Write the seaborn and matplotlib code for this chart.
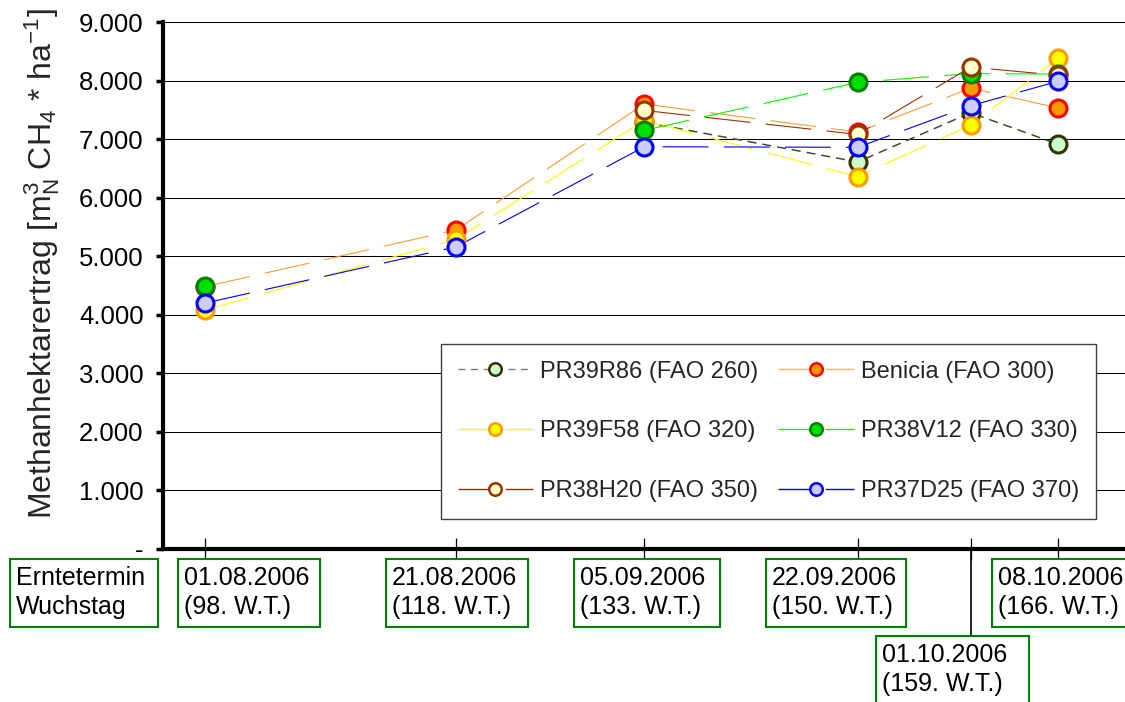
import numpy as np
import pandas as pd
import matplotlib
matplotlib.use("Agg")
import matplotlib.pyplot as plt
import matplotlib.transforms as mtransforms
from matplotlib.patches import Rectangle
from matplotlib.lines import Line2D
from matplotlib.ticker import FuncFormatter, FixedLocator
import seaborn as sns

# ---------------- data ----------------
harvest_dates = ["01.08.2006", "21.08.2006", "05.09.2006", "22.09.2006", "01.10.2006", "08.10.2006"]
growth_days = [98, 118, 133, 150, 159, 166]
varieties = ["PR39R86 (FAO 260)", "Benicia (FAO 300)", "PR39F58 (FAO 320)",
             "PR38V12 (FAO 330)", "PR38H20 (FAO 350)", "PR37D25 (FAO 370)"]
pr39r86 = [np.nan, np.nan, 7290, 6610, 7450, 6910]
benicia = [4480, 5450, 7600, 7120, 7870, 7530]
pr39f58 = [4080, 5290, 7320, 6360, 7240, 8380]
pr38v12 = [4490, np.nan, 7150, 7970, 8120, 8110]
pr38h20 = [np.nan, np.nan, 7490, 7080, 8230, 8090]
pr37d25 = [4200, 5160, 6870, 6860, 7570, 7990]
yticks = [0, 1000, 2000, 3000, 4000, 5000, 6000, 7000, 8000, 9000]
row_label = ["Erntetermin", "Wuchstag"]

series = [pr39r86, benicia, pr39f58, pr38v12, pr38h20, pr37d25]

# ---------------- styles ----------------
line_colors = ["#4a4a2a", "#FF9933", "#FFFF00", "#00FF00", "#993300", "#0000FF"]
legend_line_colors = ["#808066", "#FFB060", "#FFFF00", "#00FF00", "#993300", "#0000FF"]
face_colors = ["#CCFFCC", "#FF9900", "#FFFF00", "#00E000", "#FFFFCC", "#CCCCFF"]
edge_colors = ["#333300", "#FF0000", "#FF9900", "#008000", "#993300", "#0000FF"]
long_dash = (0, (33, 11))
short_dash = (0, (6.5, 4.3))
line_styles = [short_dash, long_dash, long_dash, long_dash, long_dash, long_dash]
legend_styles = [(0, (5, 4)), (0, (26, 8)), (0, (26, 8)), (0, (26, 8)), (0, (26, 8)), (0, (26, 8))]
line_widths = [1.1, 0.8, 0.8, 0.8, 0.8, 0.8]

# long table with contiguous segments (gaps break the line)
rows = []
for name, vals in zip(varieties, series):
    seg = 0
    for d, v in zip(growth_days, vals):
        if np.isnan(v):
            seg += 1
            continue
        rows.append({"variety": name, "day": d, "value": v, "seg": seg})
df = pd.DataFrame(rows)

sns.set_style("white")
plt.rcParams["font.family"] = ["Liberation Sans", "DejaVu Sans"]
plt.rcParams["mathtext.fontset"] = "custom"
plt.rcParams["mathtext.rm"] = "Liberation Sans"
plt.rcParams["mathtext.it"] = "Liberation Sans:italic"
plt.rcParams["lines.scale_dashes"] = False

W, H = 1125, 702
fig = plt.figure(figsize=(W / 100, H / 100), dpi=100)
ax = fig.add_axes([163 / W, 1 - 549 / H, (W - 163) / W, 527 / H])

# lines
for i, name in enumerate(varieties):
    sub = df[df["variety"] == name]
    sns.lineplot(data=sub, x="day", y="value", units="seg", estimator=None,
                 color=line_colors[i], linestyle=line_styles[i], linewidth=line_widths[i],
                 ax=ax, legend=False, zorder=2)
# markers
for i, name in enumerate(varieties):
    sub = df[df["variety"] == name]
    sns.scatterplot(data=sub, x="day", y="value", color=face_colors[i],
                    edgecolor=edge_colors[i], linewidth=2.2, s=150,
                    ax=ax, legend=False, zorder=3 + i * 0.1)

# axes
x0 = growth_days[0]
ax.set_xlim(x0 - 3.35, x0 + 73.3)
ax.set_ylim(0, 9000)
ax.yaxis.set_major_locator(FixedLocator(yticks))
ax.yaxis.set_major_formatter(FuncFormatter(
    lambda v, p: "-" if v == 0 else f"{v:,.0f}".replace(",", ".")))
ax.xaxis.set_major_locator(FixedLocator(growth_days))
ax.set_xticklabels([])
ax.set_xlabel("")
ax.set_axisbelow(True)
ax.yaxis.grid(True, color="black", linewidth=0.75)
ax.xaxis.grid(False)
for s in ["top", "right"]:
    ax.spines[s].set_visible(False)
for s in ["left", "bottom"]:
    ax.spines[s].set_color("black")
    ax.spines[s].set_linewidth(3)
ax.tick_params(axis="y", direction="out", length=5, width=2.5, labelsize=18.5,
               pad=9, left=True, colors="black")
ax.tick_params(axis="x", direction="inout", length=16, width=0.9, bottom=True, colors="black")
ax.set_ylabel("Methanhektarertrag [m$\\mathregular{^3_N}$ CH$\\mathregular{_4}$ * ha$\\mathregular{^{-1}}$]",
              fontsize=23)
ax.yaxis.set_label_coords(-0.126, 0.541)
ax.yaxis.label.set_va("center")

# long tick for 01.10.2006
trans = mtransforms.blended_transform_factory(ax.transData, ax.transAxes)
ax.plot([growth_days[4], growth_days[4]], [0, -(637 - 549) / 527], transform=trans,
        color="black", lw=1.2, clip_on=False, zorder=1)

# legend
handles = []
for i, name in enumerate(varieties):
    handles.append(Line2D([0], [0], color=legend_line_colors[i], linestyle=legend_styles[i],
                          linewidth=1.0, marker="o", markersize=9,
                          markerfacecolor=face_colors[i], markeredgecolor=edge_colors[i],
                          markeredgewidth=1.8))
order = [0, 2, 4, 1, 3, 5]
leg = ax.legend([handles[i] for i in order], [varieties[i] for i in order], ncol=2,
                loc="upper left", bbox_to_anchor=(441 / W, 1 - 344 / H),
                bbox_transform=fig.transFigure, borderaxespad=0, frameon=True,
                fancybox=False, edgecolor="#404040", framealpha=1, fontsize=17,
                handlelength=3.2, handletextpad=0.3, columnspacing=0.85,
                labelspacing=1.6, borderpad=0.7)
leg.get_frame().set_linewidth(1.0)
leg.set_zorder(10)

# label boxes beneath the axis (pixel layout)
box_layout = [(10, 559, 148, 68), (178, 559, 142, 68), (386, 559, 142, 68),
              (574, 559, 146, 68), (766, 559, 140, 68), (876, 636, 153, 80),
              (992, 559, 140, 68)]
texts = [row_label] + [[d, f"({w}. W.T.)"] for d, w in zip(harvest_dates, growth_days)]
for (bx, by, bw, bh), lines in zip(box_layout, texts):
    fig.add_artist(Rectangle((bx / W, 1 - (by + bh) / H), bw / W, bh / H,
                             transform=fig.transFigure, facecolor="white",
                             edgecolor="#008000", linewidth=1.5, clip_on=False))
    fig.text((bx + 6) / W, 1 - (by + 26) / H, lines[0], fontsize=18,
             ha="left", va="baseline", color="black")
    fig.text((bx + 6) / W, 1 - (by + 55) / H, lines[1], fontsize=18,
             ha="left", va="baseline", color="black")

fig.savefig("out.png", dpi=100)
